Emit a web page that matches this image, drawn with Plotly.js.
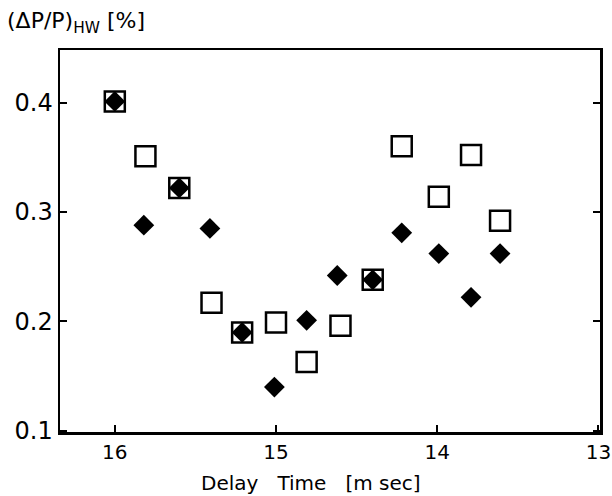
<!DOCTYPE html>
<html>
<head>
<meta charset="utf-8">
<script src="https://cdn.plot.ly/plotly-3.0.1.min.js"></script>
<style>html,body{margin:0;padding:0;background:#fff;}#chart{width:612px;height:496px;}</style>
</head>
<body>
<div id="chart"></div>
<script>
// Open squares
const squareX = [16.00, 15.81, 15.60, 15.40, 15.21, 15.00, 14.81, 14.60, 14.40, 14.22, 13.99, 13.79, 13.61];
const squareY = [0.401, 0.351, 0.322, 0.217, 0.190, 0.199, 0.163, 0.196, 0.238, 0.360, 0.314, 0.352, 0.292];
// Filled diamonds
const diamondX = [16.00, 15.82, 15.60, 15.41, 15.21, 15.01, 14.81, 14.62, 14.40, 14.22, 13.99, 13.79, 13.61];
const diamondY = [0.401, 0.288, 0.322, 0.285, 0.190, 0.140, 0.201, 0.242, 0.238, 0.281, 0.262, 0.222, 0.262];
// Axis ticks
const xTicks = [16, 15, 14, 13];
const xTickText = ['16', '15', '14', '13'];
const yTicks = [0.1, 0.2, 0.3, 0.4];
const yTickText = ['0.1', '0.2', '0.3', '0.4'];

const font = 'DejaVu Sans, Arial, sans-serif';

const traces = [
  {
    x: squareX, y: squareY, type: 'scatter', mode: 'markers',
    marker: {symbol: 'square-open', size: 20, color: '#000', line: {width: 2.5, color: '#000'}},
    hoverinfo: 'skip', showlegend: false
  },
  {
    x: diamondX, y: diamondY, type: 'scatter', mode: 'markers',
    marker: {symbol: 'diamond', size: 16, color: '#000', line: {width: 0}},
    hoverinfo: 'skip', showlegend: false
  }
];

const layout = {
  width: 612, height: 496,
  margin: {l: 60, r: 12, t: 50, b: 64},
  paper_bgcolor: '#fff', plot_bgcolor: '#fff',
  font: {family: font, color: '#000'},
  xaxis: {
    range: [16.34, 12.99],
    tickvals: xTicks, ticktext: xTickText,
    ticks: 'inside', ticklen: 7, tickwidth: 2, tickcolor: '#000',
    showline: true, linewidth: 2.5, linecolor: '#000', mirror: true,
    showgrid: false, zeroline: false,
    tickfont: {size: 20, family: font}
  },
  yaxis: {
    range: [0.099, 0.448],
    tickvals: yTicks, ticktext: yTickText,
    ticks: 'inside', ticklen: 7, tickwidth: 2, tickcolor: '#000',
    showline: true, linewidth: 2.5, linecolor: '#000', mirror: 'ticks',
    showgrid: false, zeroline: false,
    tickfont: {size: 24, family: font}
  },
  annotations: [
    {
      xref: 'paper', yref: 'paper', x: -0.102, y: 1.073, xanchor: 'left', yanchor: 'middle',
      text: '(ΔP/P)<sub>HW</sub>&nbsp;[%]', showarrow: false,
      font: {size: 22, family: font, color: '#000'}
    },
    {
      xref: 'paper', yref: 'paper', x: 0.465, y: -0.134, xanchor: 'center', yanchor: 'middle',
      text: 'Delay&nbsp;&nbsp;&nbsp;Time&nbsp;&nbsp;&nbsp;[m sec]', showarrow: false,
      font: {size: 20, family: font, color: '#000'}
    }
  ]
};

Plotly.newPlot('chart', traces, layout, {staticPlot: true, displayModeBar: false});
</script>
</body>
</html>
